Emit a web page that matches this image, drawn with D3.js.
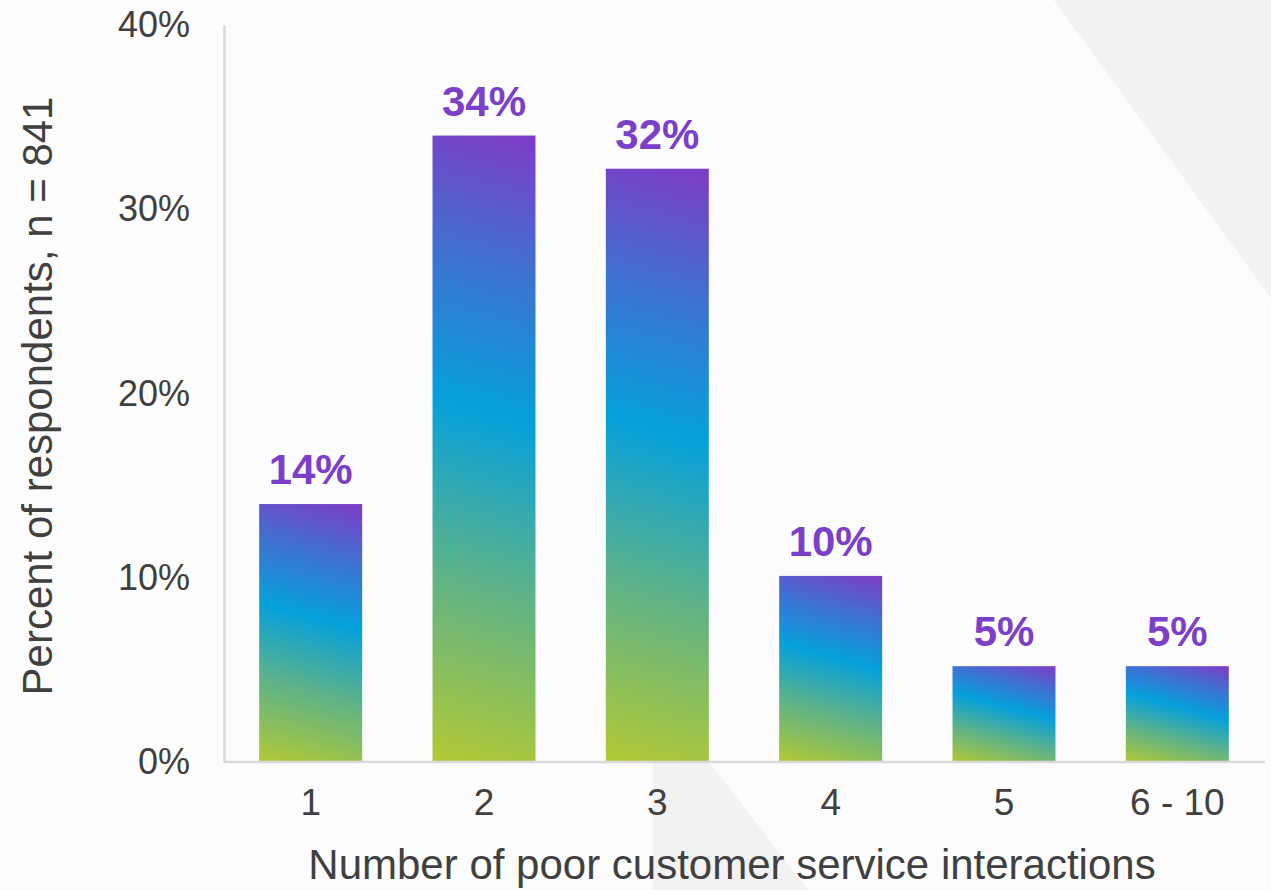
<!DOCTYPE html>
<html>
<head>
<meta charset="utf-8">
<script src="https://cdn.jsdelivr.net/npm/d3@7"></script>
<style>
  html, body { margin: 0; padding: 0; background: #fcfcfc; }
  svg { display: block; font-family: "Liberation Sans", Arial, sans-serif; }
</style>
</head>
<body>
<div class="chart"></div>
<script>
// chart data
var categories = ["1", "2", "3", "4", "5", "6 - 10"];
var percents = [14.0, 34.0, 32.2, 10.1, 5.2, 5.2];
var yTicks = [0, 10, 20, 30, 40];

var xTitle = "Number of poor customer service interactions";
var yTitle = "Percent of respondents, n = 841";

var size = { width: 1271, height: 890 };
var plot = { left: 224, right: 1264, top: 25, bottom: 762 };

var svg = d3.select(".chart").append("svg")
  .attr("width", size.width)
  .attr("height", size.height);

// background decoration (light gray slanted shapes)
svg.append("rect").attr("width", size.width).attr("height", size.height).attr("fill", "#fcfcfc");
svg.append("polygon")
  .attr("points", "1054,0 1271,0 1271,298")
  .attr("fill", "#f2f2f2");
svg.append("polygon")
  .attr("points", "653,763 710,763 808,890 653,890")
  .attr("fill", "#f2f2f2");

var x = d3.scaleBand()
  .domain(categories)
  .range([plot.left, plot.right])
  .paddingInner(0.406)
  .paddingOuter(0.203);

var y = d3.scaleLinear()
  .domain([0, 40])
  .range([plot.bottom, plot.top]);

var rows = categories.map(function(c, i) { return { cat: c, val: percents[i] }; });

// one gradient per bar, fixed angle so the slant looks the same on every bar
var defs = svg.append("defs");
var angle = 15 * Math.PI / 180;
var nx = Math.sin(angle), ny = -Math.cos(angle);
rows.forEach(function(d, i) {
  var x0 = x(d.cat), w = x.bandwidth(), h = y(0) - y(d.val);
  var len = w * nx + h * -ny;
  var g = defs.append("linearGradient")
    .attr("id", "grad" + i)
    .attr("gradientUnits", "userSpaceOnUse")
    .attr("x1", x0).attr("y1", y(0))
    .attr("x2", x0 + nx * len).attr("y2", y(0) + ny * len);
  g.append("stop").attr("offset", 0).attr("stop-color", "#b2c934");
  g.append("stop").attr("offset", 0.3).attr("stop-color", "#5cb28a");
  g.append("stop").attr("offset", 0.56).attr("stop-color", "#05a0dc");
  g.append("stop").attr("offset", 0.78).attr("stop-color", "#3d72d2");
  g.append("stop").attr("offset", 1).attr("stop-color", "#7f3bc7");
});

svg.selectAll("rect.bar").data(rows)
  .enter().append("rect")
  .attr("class", "bar")
  .attr("x", function(d) { return x(d.cat); })
  .attr("y", function(d) { return y(d.val); })
  .attr("width", x.bandwidth())
  .attr("height", function(d) { return y(0) - y(d.val); })
  .attr("fill", function(d, i) { return "url(#grad" + i + ")"; });

// value labels
svg.selectAll("text.val").data(rows)
  .enter().append("text")
  .attr("class", "val")
  .attr("x", function(d) { return x(d.cat) + x.bandwidth() / 2; })
  .attr("y", function(d) { return y(d.val) - 20; })
  .attr("text-anchor", "middle")
  .attr("font-size", 42)
  .attr("font-weight", "bold")
  .attr("fill", "#7b3fc9")
  .text(function(d) { return Math.round(d.val) + "%"; });

// axes
var yAxis = svg.append("g")
  .attr("transform", "translate(" + plot.left + ",0)")
  .call(d3.axisLeft(y).tickValues(yTicks).tickSize(0).tickPadding(34)
    .tickFormat(function(d) { return d + "%"; }));
var xAxis = svg.append("g")
  .attr("transform", "translate(0," + plot.bottom + ")")
  .call(d3.axisBottom(x).tickSize(0).tickPadding(27));

[xAxis, yAxis].forEach(function(a) {
  a.attr("font-size", null).attr("font-family", null);
  a.select(".domain").attr("stroke", "#d9d9d9").attr("stroke-width", 2.5);
  a.selectAll("text").attr("fill", "#404040");
});
yAxis.selectAll("text").attr("font-size", 36);
xAxis.selectAll("text").attr("font-size", 37);
xAxis.select(".domain").attr("d", "M" + plot.left + ",0H" + (plot.right + 1));

// titles
svg.append("text")
  .attr("x", 732)
  .attr("y", 879)
  .attr("text-anchor", "middle")
  .attr("font-size", 42)
  .attr("fill", "#404040")
  .text(xTitle);

svg.append("text")
  .attr("transform", "translate(52,396) rotate(-90)")
  .attr("text-anchor", "middle")
  .attr("font-size", 42)
  .attr("fill", "#404040")
  .text(yTitle);
</script>
</body>
</html>
